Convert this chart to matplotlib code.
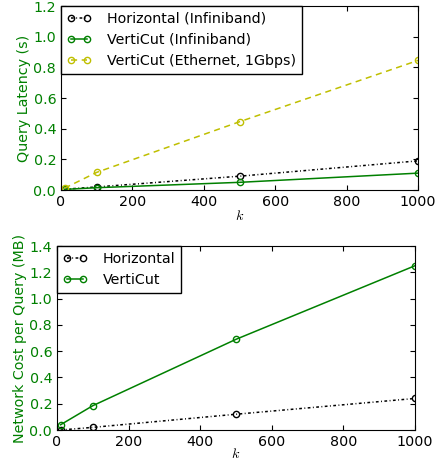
import numpy as np
import matplotlib.pyplot as plt

plt.rcParams['mathtext.fontset'] = 'cm'
plt.rcParams['xtick.direction'] = 'in'
plt.rcParams['ytick.direction'] = 'in'
plt.rcParams['xtick.top'] = True
plt.rcParams['ytick.right'] = True
plt.rcParams['font.size'] = 10.3

# datos
k = [10, 100, 500, 1000]
lat_horizontal = [0.005, 0.02, 0.09, 0.19]
lat_verticut_ib = [0.004, 0.015, 0.05, 0.11]
lat_verticut_eth = [0.012, 0.115, 0.445, 0.845]
net_horizontal = [0.0, 0.02, 0.12, 0.24]
net_verticut = [0.04, 0.185, 0.69, 1.25]

green = (0, 0.5, 0)
yellow = (0.75, 0.75, 0)

fig = plt.figure(figsize=(4.37, 4.61), dpi=100)
ax1 = fig.add_axes([61/437, 1 - 190/461, 357/437, 184/461])
ax2 = fig.add_axes([57/437, 1 - 430/461, 358/437, 184/461])

mk = dict(marker='o', markerfacecolor='none', markersize=4.5, markeredgewidth=1, linewidth=1.1)
dashdot = (1.8, 1.6, 0.6, 1.6)
leg_opts = dict(loc='upper left', borderaxespad=0, fancybox=False, numpoints=2,
                handlelength=1.7, handletextpad=1.1, framealpha=1)

# Grafico de latencia
ax1.plot(k, lat_horizontal, color='black', dashes=dashdot, label='Horizontal (Infiniband)', **mk)
ax1.plot(k, lat_verticut_ib, color=green, linestyle='-', label='VertiCut (Infiniband)', **mk)
ax1.plot(k, lat_verticut_eth, color=yellow, dashes=(4, 3), label='VertiCut (Ethernet, 1Gbps)', **mk)
ax1.set_xlim(0, 1000)
ax1.set_ylim(0, 1.2)
ax1.set_yticks(np.arange(0, 1.21, 0.2))
ax1.set_xlabel('$k$', labelpad=0)
ax1.set_ylabel('Query Latency (s)', color=green, labelpad=2)
ax1.tick_params(axis='y', labelcolor=green)
leg1 = ax1.legend(**leg_opts)
leg1.get_frame().set_edgecolor('black')

# Grafico de costo de red
ax2.plot(k, net_horizontal, color='black', dashes=dashdot, label='Horizontal', **mk)
ax2.plot(k, net_verticut, color=green, linestyle='-', label='VertiCut', **mk)
ax2.set_xlim(0, 1000)
ax2.set_ylim(0, 1.4)
ax2.set_yticks(np.arange(0, 1.41, 0.2))
ax2.set_xlabel('$k$', labelpad=-1)
ax2.set_ylabel('Network Cost per Query (MB)', color=green, labelpad=2)
ax2.tick_params(axis='y', labelcolor=green)
leg2 = ax2.legend(**leg_opts)
leg2.get_frame().set_edgecolor('black')

fig.savefig('out.png', dpi=100)
